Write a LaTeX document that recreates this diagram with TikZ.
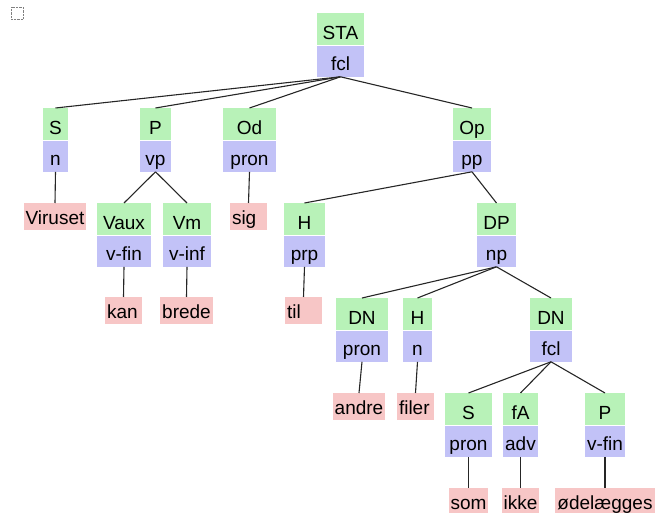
\documentclass[tikz,border=0pt]{standalone}
\usepackage{fontspec}
\setmainfont{Liberation Sans}
\usepackage{calc}
\usepackage{tikz}
\usetikzlibrary{positioning}

\definecolor{fungreen}{RGB}{184,242,184}
\definecolor{formblue}{RGB}{194,194,247}
\definecolor{wordpink}{RGB}{247,198,198}

% word text sits on the left of a box with a minimum width
\newcommand{\wordtext}[1]{\makebox[\maxof{\width}{33pt}][l]{#1}}

\tikzset{
  fun/.style={fill=fungreen, anchor=north, inner sep=0pt, text height=26pt, text depth=6pt, minimum width=#1},
  form/.style={fill=formblue, inner sep=0pt, text height=25pt, text depth=6pt, minimum width=#1},
  word/.style={fill=wordpink, anchor=north, inner xsep=2pt, inner ysep=0pt, text height=21pt, text depth=6pt},
  edge/.style={line width=1.1pt, black!85}
}

\begin{document}
\begin{tikzpicture}[x=1pt, y=-1pt, font=\fontsize{19}{22}\selectfont]
  \useasboundingbox (0,0) rectangle (657,513);

  % small dotted mark in the corner
  \node[draw, densely dotted, gray, minimum size=12pt, inner sep=0pt] (mark) at (17,13) {};

  % top clause
  \node[fun=47pt] (sta) at (340.5,13) {STA};
  \node[form=47pt, below=0pt of sta] (sta-c) {fcl};

  % first level
  \node[fun=25pt] (s) at (55.5,108) {S};
  \node[form=25pt, below=0pt of s] (s-c) {n};
  \node[fun=31pt] (p) at (155.5,108) {P};
  \node[form=31pt, below=0pt of p] (p-c) {vp};
  \node[fun=53pt] (od) at (249.5,108) {Od};
  \node[form=53pt, below=0pt of od] (od-c) {pron};
  \node[fun=38pt] (op) at (472,108) {Op};
  \node[form=38pt, below=0pt of op] (op-c) {pp};

  % second level
  \node[word] (viruset) at (55,203) {\wordtext{Viruset}};
  \node[fun=54pt] (vaux) at (124,203) {Vaux};
  \node[form=54pt, below=0pt of vaux] (vaux-c) {v-fin};
  \node[fun=48pt] (vm) at (187,203) {Vm};
  \node[form=48pt, below=0pt of vm] (vm-c) {v-inf};
  \node[word] (sig) at (248.5,203) {\wordtext{sig}};
  \node[fun=41pt] (h) at (304.5,203) {H};
  \node[form=41pt, below=0pt of h] (h-c) {prp};
  \node[fun=39pt] (dp) at (496.5,203) {DP};
  \node[form=39pt, below=0pt of dp] (dp-c) {np};

  % third level
  \node[word] (kan) at (123.5,297) {\wordtext{kan}};
  \node[word] (brede) at (186.5,297) {\wordtext{brede}};
  \node[word] (til) at (303.5,297) {\wordtext{til}};
  \node[fun=52pt] (dn1) at (362,298) {DN};
  \node[form=52pt, below=0pt of dn1] (dn1-c) {pron};
  \node[fun=29pt] (h2) at (417.5,298) {H};
  \node[form=29pt, below=0pt of h2] (h2-c) {n};
  \node[fun=42pt] (dn2) at (551,298) {DN};
  \node[form=42pt, below=0pt of dn2] (dn2-c) {fcl};

  % fourth level
  \node[word] (andre) at (359,393) {\wordtext{andre}};
  \node[word] (filer) at (415.5,393) {\wordtext{filer}};
  \node[fun=47pt] (s2) at (468.5,393) {S};
  \node[form=47pt, below=0pt of s2] (s2-c) {pron};
  \node[fun=35pt] (fa) at (520.5,393) {fA};
  \node[form=35pt, below=0pt of fa] (fa-c) {adv};
  \node[fun=40pt] (p2) at (605,393) {P};
  \node[form=40pt, below=0pt of p2] (p2-c) {v-fin};

  % words at the bottom
  \node[word] (som) at (468.5,488) {\wordtext{som}};
  \node[word] (ikke) at (520.5,488) {\wordtext{ikke}};
  \node[word] (odel) at (605,488) {\wordtext{ødelægges}};

  % branches
  \draw[edge] (sta-c.south) -- (s.north);
  \draw[edge] (sta-c.south) -- (p.north);
  \draw[edge] (sta-c.south) -- (od.north);
  \draw[edge] (sta-c.south) -- (op.north);
  \draw[edge] (s-c.south) -- (viruset.north);
  \draw[edge] (p-c.south) -- (vaux.north);
  \draw[edge] (p-c.south) -- (vm.north);
  \draw[edge] (od-c.south) -- (sig.north);
  \draw[edge] (op-c.south) -- (h.north);
  \draw[edge] (op-c.south) -- (dp.north);
  \draw[edge] (vaux-c.south) -- (kan.north);
  \draw[edge] (vm-c.south) -- (brede.north);
  \draw[edge] (h-c.south) -- (til.north);
  \draw[edge] (dp-c.south) -- (dn1.north);
  \draw[edge] (dp-c.south) -- (h2.north);
  \draw[edge] (dp-c.south) -- (dn2.north);
  \draw[edge] (dn1-c.south) -- (andre.north);
  \draw[edge] (h2-c.south) -- (filer.north);
  \draw[edge] (dn2-c.south) -- (s2.north);
  \draw[edge] (dn2-c.south) -- (fa.north);
  \draw[edge] (dn2-c.south) -- (p2.north);
  \draw[edge] (s2-c.south) -- (som.north);
  \draw[edge] (fa-c.south) -- (ikke.north);
  \draw[edge] (p2-c.south) -- (odel.north);
\end{tikzpicture}
\end{document}
